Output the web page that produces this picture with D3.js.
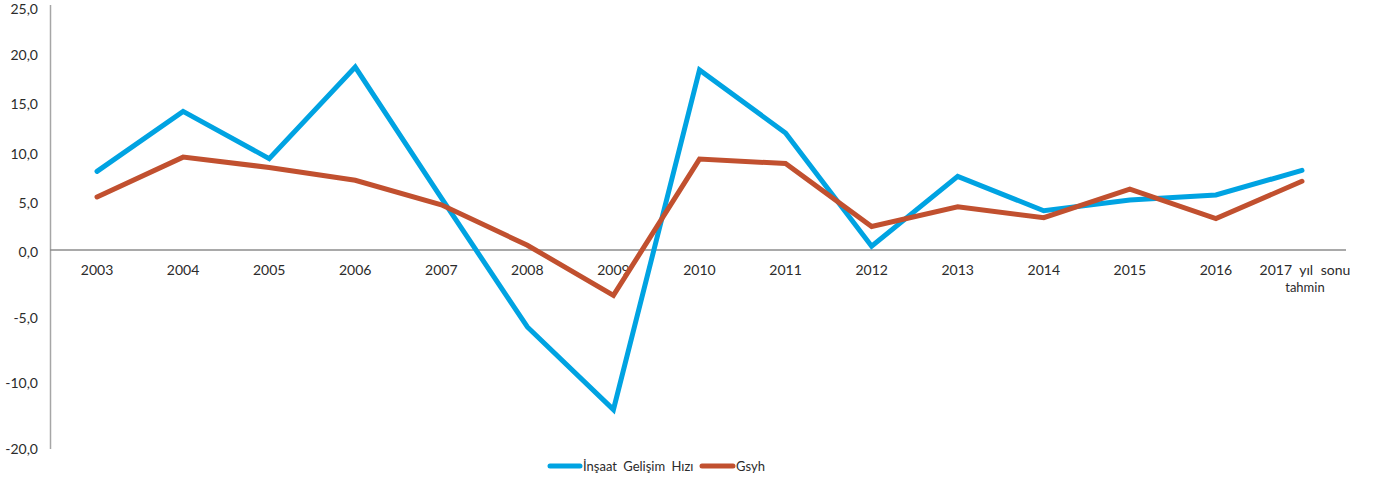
<!DOCTYPE html>
<html>
<head>
<meta charset="utf-8">
<script src="https://cdn.jsdelivr.net/npm/d3@7"></script>
<style>
  html, body { margin: 0; padding: 0; background: #ffffff; }
  svg { display: block; }
  text { font-family: "Lato", "DejaVu Sans", sans-serif; fill: #2b2b2b; }
</style>
</head>
<body>
<svg id="chart" width="1373" height="481"></svg>
<script>
// ---- data ----
const categories = ["2003","2004","2005","2006","2007","2008","2009","2010","2011","2012","2013","2014","2015","2016","2017"];
const categoryLabels = [["2003"],["2004"],["2005"],["2006"],["2007"],["2008"],["2009"],["2010"],["2011"],["2012"],["2013"],["2014"],["2015"],["2016"],["2017 yıl sonu","tahmin"]];
const insaat = [8.2, 14.3, 9.5, 18.8, 5.5, -7.6, -16.0, 18.5, 12.1, 0.6, 7.7, 4.2, 5.3, 5.8, 8.3];
const gsyh   = [5.6, 9.65, 8.6, 7.3, 4.8, 0.7, -4.4, 9.45, 9.0, 2.6, 4.6, 3.5, 6.4, 3.4, 7.2];
const seriesNames = ["İnşaat Gelişim Hızı", "Gsyh"];
const yTickValues = [25, 20, 15, 10, 5, 0, -20/3, -40/3, -20];
const yTickLabels = ["25,0","20,0","15,0","10,0","5,0","0,0","-5,0","-10,0","-20,0"];
const colors = ["#00A3E2", "#C1502F"];

// ---- layout ----
const svg = d3.select("#chart");
const x = d3.scalePoint().domain(categories).range([54, 1345]).padding(0.5);
const y = d3.scaleLinear().domain([-20, 25]).range([449, 6]);
const xAxisY = y(0) - 2;

// y axis line
svg.append("line")
  .attr("x1", 50.5).attr("x2", 50.5)
  .attr("y1", y(25) - 1).attr("y2", y(-20))
  .attr("stroke", "#a6a6a6").attr("stroke-width", 1.5);

// x axis line
svg.append("line")
  .attr("x1", 50).attr("x2", 1346)
  .attr("y1", xAxisY).attr("y2", xAxisY)
  .attr("stroke", "#8c8c8c").attr("stroke-width", 1.5);

// y tick labels
svg.append("g").selectAll("text")
  .data(yTickValues)
  .join("text")
  .attr("x", 38)
  .attr("y", d => Math.max(y(d), 9))
  .attr("dy", "0.35em")
  .attr("text-anchor", "end")
  .attr("font-size", 14)
  .text((d, i) => yTickLabels[i]);

// x category labels
const last = categories.length - 1;
svg.append("g").selectAll("g")
  .data(categories)
  .join("g")
  .each(function(d, i) {
    const g = d3.select(this);
    categoryLabels[i].forEach((ln, j) => {
      g.append("text")
        .attr("x", x(d) + (i === last ? 3 : 0))
        .attr("y", xAxisY + 25 + j * 17)
        .attr("text-anchor", "middle")
        .attr("font-size", j === 0 ? 14 : 13)
        .attr("word-spacing", i === last ? 4 : 0)
        .text(ln);
    });
  });

// lines
const line = d3.line().x((d, i) => x(categories[i])).y(d => y(d));
[insaat, gsyh].forEach((s, k) => {
  svg.append("path")
    .datum(s)
    .attr("d", line)
    .attr("fill", "none")
    .attr("stroke", colors[k])
    .attr("stroke-width", 5)
    .attr("stroke-linejoin", "miter")
    .attr("stroke-linecap", "round");
});

// legend
const legend = svg.append("g");
const legY = 466;
const legItems = [{x: 550, w: 30, tx: 583}, {x: 702, w: 31, tx: 736}];
legItems.forEach((it, k) => {
  legend.append("line")
    .attr("x1", it.x).attr("x2", it.x + it.w)
    .attr("y1", legY).attr("y2", legY)
    .attr("stroke", colors[k]).attr("stroke-width", 5)
    .attr("stroke-linecap", "round");
  legend.append("text")
    .attr("x", it.tx).attr("y", legY)
    .attr("dy", "0.35em")
    .attr("font-size", 13)
    .attr("word-spacing", 3)
    .text(seriesNames[k]);
});
</script>
</body>
</html>
